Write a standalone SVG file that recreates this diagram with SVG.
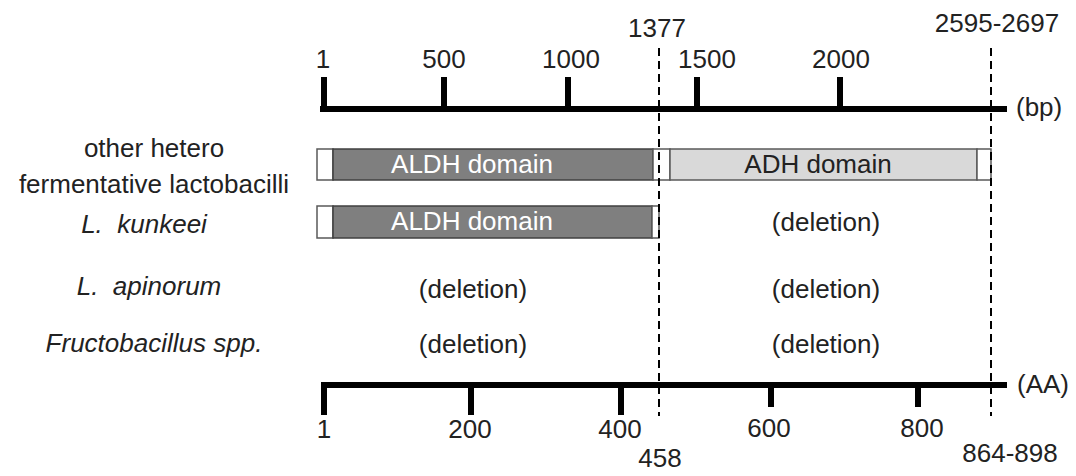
<svg xmlns="http://www.w3.org/2000/svg" width="1076" height="476" viewBox="0 0 1076 476">
<style>
text{font-family:"Liberation Sans",Arial,sans-serif;font-size:26px;fill:#222;}
.m{text-anchor:middle;}
.i{font-style:italic;}
.w{fill:#fff;}
.axis{stroke:#000;stroke-width:6;fill:none;}
.dash{stroke:#000;stroke-width:2;stroke-dasharray:8,5;fill:none;}
.wb{fill:#fff;stroke:#595959;stroke-width:1.5;}
.dg{fill:#7f7f7f;stroke:#404040;stroke-width:1.5;}
.lg{fill:#d9d9d9;stroke:#595959;stroke-width:1.5;}
</style>
<g id="bp-axis">
<line class="axis" x1="320" y1="109" x2="1007" y2="109"/>
<line class="axis" x1="324" y1="77" x2="324" y2="109"/>
<line class="axis" x1="444" y1="77" x2="444" y2="109"/>
<line class="axis" x1="568" y1="77" x2="568" y2="109"/>
<line class="axis" x1="697" y1="77" x2="697" y2="109"/>
<line class="axis" x1="840" y1="77" x2="840" y2="109"/>
<text class="m" x="323" y="68">1</text>
<text class="m" x="444" y="68">500</text>
<text class="m" x="571" y="68">1000</text>
<text class="m" x="707" y="68">1500</text>
<text class="m" x="841" y="68">2000</text>
<text class="m" x="657" y="37">1377</text>
<text class="m" x="997" y="32">2595-2697</text>
<text x="1016" y="116">(bp)</text>
</g>
<g id="labels">
<text class="m" x="154" y="157">other hetero</text>
<text class="m" x="154" y="193">fermentative lactobacilli</text>
<text class="m i" x="144" y="233">L.&#160; kunkeei</text>
<text class="m i" x="149" y="295">L.&#160; apinorum</text>
<text class="m i" x="154" y="352">Fructobacillus spp.</text>
</g>
<g id="row-other">
<rect class="wb" x="317" y="149" width="16" height="31"/>
<rect class="dg" x="333" y="149" width="320" height="31"/>
<rect class="wb" x="653" y="149" width="17" height="31"/>
<rect class="lg" x="670" y="149" width="307" height="31"/>
<rect class="wb" x="977" y="149" width="14" height="31"/>
<text class="m w" x="472" y="173">ALDH domain</text>
<text class="m" x="818" y="173">ADH domain</text>
</g>
<g id="row-kunkeei">
<rect class="wb" x="317" y="206" width="16" height="32"/>
<rect class="dg" x="333" y="206" width="319" height="32"/>
<rect class="wb" x="652" y="206" width="7" height="32"/>
<text class="m w" x="472" y="230">ALDH domain</text>
<text class="m" x="826" y="231">(deletion)</text>
</g>
<g id="row-apinorum">
<text class="m" x="473" y="298">(deletion)</text>
<text class="m" x="826" y="298">(deletion)</text>
</g>
<g id="row-fructobacillus">
<text class="m" x="473" y="353">(deletion)</text>
<text class="m" x="826" y="353">(deletion)</text>
</g>
<g id="aa-axis">
<line class="axis" x1="321" y1="385" x2="1007" y2="385"/>
<line class="axis" x1="324" y1="385" x2="324" y2="415"/>
<line class="axis" x1="471" y1="385" x2="471" y2="415"/>
<line class="axis" x1="621" y1="385" x2="621" y2="415"/>
<line class="axis" x1="771" y1="385" x2="771" y2="407"/>
<line class="axis" x1="918" y1="385" x2="918" y2="407"/>
<text class="m" x="324" y="438">1</text>
<text class="m" x="470" y="438">200</text>
<text class="m" x="620" y="438">400</text>
<text class="m" x="769" y="437">600</text>
<text class="m" x="922" y="437">800</text>
<text class="m" x="660" y="467">458</text>
<text class="m" x="1010" y="462">864-898</text>
<text x="1017" y="393">(AA)</text>
</g>
<g id="connectors">
<line class="dash" x1="659" y1="48" x2="659" y2="416"/>
<line class="dash" x1="991" y1="48" x2="991" y2="416"/>
</g>
</svg>
